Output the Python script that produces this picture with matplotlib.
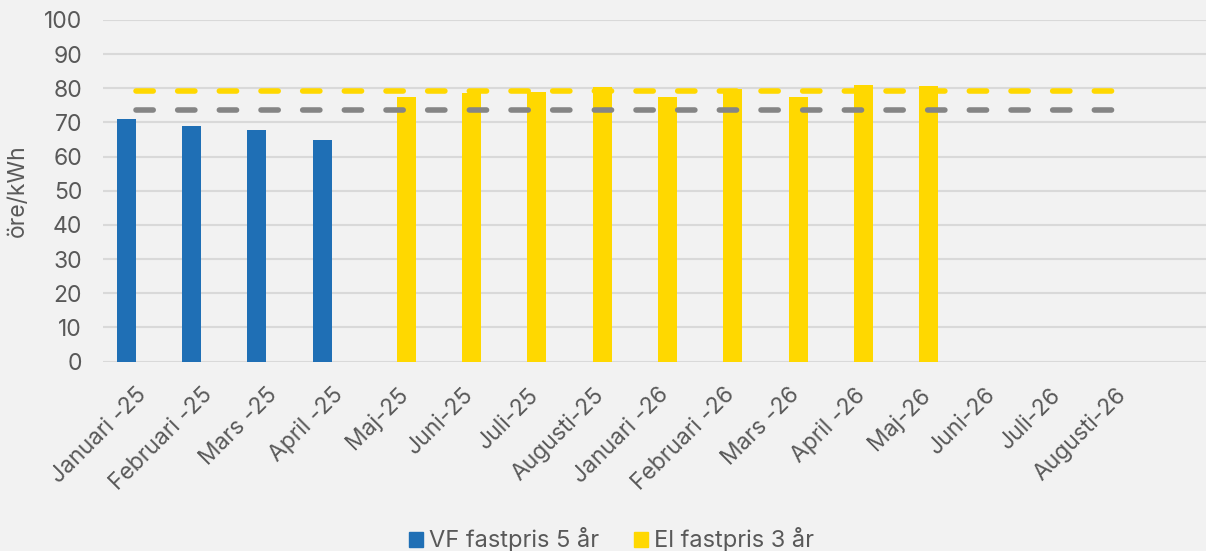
import numpy as np
import matplotlib.pyplot as plt
from matplotlib.patches import Patch

# month labels on the x axis
months = ['Januari -25', 'Februari -25', 'Mars -25', 'April -25', 'Maj-25', 'Juni-25',
          'Juli-25', 'Augusti-25', 'Januari -26', 'Februari -26', 'Mars -26', 'April -26',
          'Maj-26', 'Juni-26', 'Juli-26', 'Augusti-26']

nan = np.nan
vf_5ar = [71.0, 68.9, 67.8, 64.9, nan, nan, nan, nan, nan, nan, nan, nan, nan, nan, nan, nan]
el_3ar = [nan, nan, nan, nan, 77.5, 78.5, 79.0, 80.3, 77.5, 79.7, 77.4, 81.0, 80.7, nan, nan, nan]

# average levels shown as dashed lines
el_avg = [79.2] * len(months)
vf_avg = [73.5] * len(months)

BLUE = '#1f6fb5'
YELLOW = '#ffd800'
GRAY = '#858585'
TEXT = '#595959'
BG = '#f2f2f2'

plt.rcParams['font.family'] = ['Inter', 'DejaVu Sans']

fig = plt.figure(figsize=(12.06, 5.51), dpi=100, facecolor=BG)
ax = fig.add_axes([103 / 1206, 1 - 361.5 / 551, 1 - 103 / 1206, (361.5 - 20) / 551])
ax.set_facecolor(BG)

x = np.arange(len(months))
w = 0.29
ax.bar(x - w / 2, vf_5ar, width=w, color=BLUE, zorder=2)
ax.bar(x + w / 2, el_3ar, width=w, color=YELLOW, zorder=2)

for vals, col in [(el_avg, YELLOW), (vf_avg, GRAY)]:
    ln, = ax.plot(x, vals, color=col, lw=4, solid_capstyle='round', dash_capstyle='round', zorder=3)
    ln.set_dashes([3.1, 4.4])

ax.set_ylim(0, 100)
ax.set_yticks(range(0, 101, 10))
ax.set_xlim(-0.5, 16.39)
ax.set_xticks(x)
ax.set_xticklabels(months, rotation=45, ha='right', rotation_mode='anchor')

ax.grid(axis='y', color='#d9d9d9', lw=1.5, zorder=0)
ax.tick_params(axis='both', length=0, labelsize=16.5, colors=TEXT)
ax.tick_params(axis='y', pad=15)
ax.tick_params(axis='x', pad=16)
for s in ax.spines.values():
    s.set_visible(False)
ax.axhline(0, color='#d9d9d9', lw=2, zorder=1)

fig.text(18 / 1206, 1 - 191 / 551, 'öre/kWh', rotation=90, ha='center', va='center',
         fontsize=16.5, color=TEXT)

handles = [Patch(color=BLUE, label='VF fastpris 5 år'), Patch(color=YELLOW, label='El fastpris 3 år')]
fig.legend(handles=handles, loc='center', bbox_to_anchor=(0.507, 0.02), ncol=2, frameon=False,
           fontsize=17, labelcolor=TEXT, handlelength=0.6, handleheight=0.6,
           handletextpad=0.25, columnspacing=1.45)

fig.savefig('out.png', dpi=100, facecolor=BG)
